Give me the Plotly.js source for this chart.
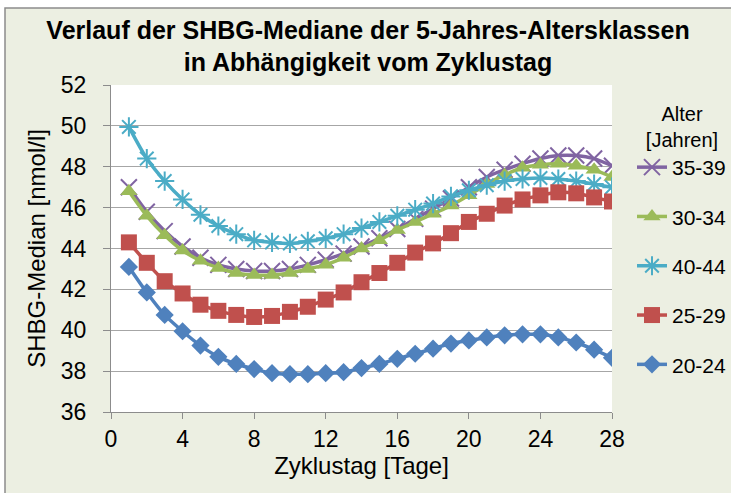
<!DOCTYPE html>
<html>
<head>
<meta charset="utf-8">
<script src="https://cdn.plot.ly/plotly-3.0.1.min.js"></script>
<style>html,body{margin:0;padding:0;background:#fff;}#chart{width:731px;height:493px;}</style>
</head>
<body>
<div id="chart"></div>
<script>
const days = [1,2,3,4,5,6,7,8,9,10,11,12,13,14,15,16,17,18,19,20,21,22,23,24,25,26,27,28];

const seriesNames = ["35-39", "30-34", "40-44", "25-29", "20-24"];

const age35_39 = [47.0,45.8,44.85,44.1,43.55,43.2,43.0,42.9,42.9,43.0,43.2,43.45,43.75,44.1,44.5,44.95,45.45,45.95,46.45,47.0,47.5,47.85,48.15,48.4,48.55,48.55,48.4,48.05];
const age30_34 = [46.8,45.6,44.65,43.9,43.4,43.05,42.8,42.7,42.7,42.8,43.0,43.2,43.55,44.0,44.4,44.9,45.3,45.7,46.1,46.6,47.15,47.6,47.95,48.1,48.15,48.05,47.85,47.5];
const age40_44 = [49.95,48.4,47.3,46.4,45.65,45.1,44.7,44.4,44.3,44.25,44.35,44.5,44.7,45.0,45.3,45.6,45.9,46.2,46.55,46.85,47.1,47.3,47.4,47.45,47.4,47.3,47.15,47.0];
const age25_29 = [44.3,43.3,42.4,41.8,41.25,40.95,40.75,40.65,40.7,40.9,41.15,41.5,41.85,42.35,42.8,43.3,43.8,44.25,44.75,45.3,45.7,46.1,46.4,46.6,46.75,46.7,46.5,46.3];
const age20_24 = [43.1,41.85,40.75,39.95,39.25,38.7,38.35,38.1,37.9,37.85,37.85,37.9,37.95,38.15,38.35,38.6,38.85,39.1,39.35,39.5,39.65,39.75,39.8,39.8,39.65,39.4,39.05,38.65];

const xTicks = [0,4,8,12,16,20,24,28];
const yTicks = [36,38,40,42,44,46,48,50,52];

const colors = ["#8064A2", "#9BBB59", "#4BACC6", "#C0504D", "#4F81BD"];
const symbols = ["x-thin-open", "triangle-up", "asterisk-open", "square", "diamond"];
const sizes = [16, 15, 16, 16, 14];
const values = [age35_39, age30_34, age40_44, age25_29, age20_24];

const FONT = "Liberation Sans, Arial, sans-serif";

const traces = seriesNames.map((n, i) => ({
  x: days,
  y: values[i],
  name: n,
  legendgroup: "g" + i,
  type: "scatter",
  mode: "lines+markers",
  line: {color: colors[i], width: 3.5, shape: "spline", smoothing: 0.8},
  marker: {symbol: symbols[i], size: sizes[i], color: colors[i],
           line: {color: colors[i], width: (symbols[i].indexOf("open") >= 0 ? 2 : 0)}}
}));

// pixel helpers for the framing shapes (plot area: x 111..612, y 85..412)
const W = 731, H = 493;
const L = 111, R = 612, T = 85, B = 412;
const px = v => (v - L) / (R - L);
const py = v => (B - v) / (B - T);

const layout = {
  width: W, height: H,
  margin: {l: L, r: W - R, t: T, b: H - B, pad: 0},
  paper_bgcolor: "#ffffff",
  plot_bgcolor: "#ffffff",
  font: {family: FONT, color: "#000000", size: 22},
  title: {
    text: "<b>Verlauf der SHBG-Mediane der 5-Jahres-Altersklassen<br>in Abhängigkeit vom Zyklustag</b>",
    font: {family: FONT, size: 25, color: "#000"},
    x: 0.513, xanchor: "center", y: 0.921, yanchor: "top", xref: "paper"
  },
  xaxis: {
    range: [0, 28], tickvals: xTicks, ticktext: xTicks.map(String),
    showgrid: false, zeroline: false, showline: true, linecolor: "#8c8c8c", linewidth: 1,
    ticks: "outside", ticklen: 6, tickcolor: "#8c8c8c",
    tickfont: {family: FONT, size: 23, color: "#000"},
    title: {text: "Zyklustag [Tage]", font: {family: FONT, size: 24, color: "#000"}, standoff: 6},
    fixedrange: true
  },
  yaxis: {
    range: [36, 52], tickvals: yTicks, ticktext: yTicks.map(String),
    showgrid: true, gridcolor: "#a6a6a6", gridwidth: 1,
    zeroline: false, showline: true, linecolor: "#8c8c8c", linewidth: 1,
    ticks: "outside", ticklen: 7, tickcolor: "#8c8c8c",
    ticklabelstandoff: 12,
    tickfont: {family: FONT, size: 23, color: "#000"},
    title: {text: "SHBG-Median [nmol/l]", font: {family: FONT, size: 24, color: "#000"}, standoff: 8},
    fixedrange: true
  },
  legend: {
    xref: "container", yref: "container",
    x: 632 / W, xanchor: "left", y: 1 - 95 / H, yanchor: "top",
    maxheight: 420,
    bgcolor: "rgba(0,0,0,0)", borderwidth: 0,
    font: {family: FONT, size: 21, color: "#000"},
    title: {text: "   Alter<br>[Jahren]", side: "top center", font: {family: FONT, size: 20, color: "#000"}},
    traceorder: "grouped", tracegroupgap: 19, itemwidth: 30
  },
  shapes: [
    {type: "rect", xref: "paper", yref: "paper", x0: px(5), x1: px(745), y0: py(505), y1: py(8),
     fillcolor: "#ECEFE2", line: {color: "#8c8c8c", width: 1.5}, layer: "below"},
    {type: "rect", xref: "paper", yref: "paper", x0: 0, x1: 1, y0: 0, y1: 1,
     fillcolor: "#ffffff", line: {width: 0}, layer: "below"}
  ],
  showlegend: true
};

Plotly.newPlot("chart", traces, layout, {displayModeBar: false, staticPlot: true});
</script>
</body>
</html>
